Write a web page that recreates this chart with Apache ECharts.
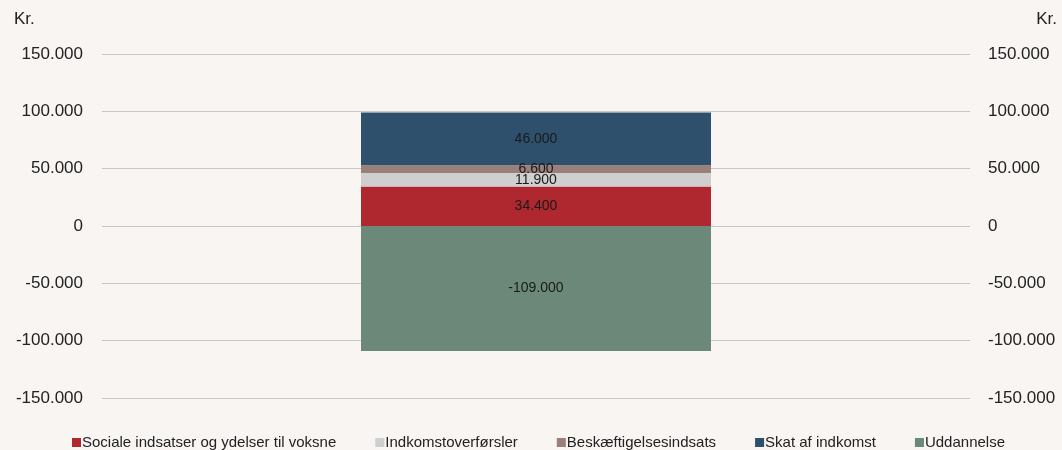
<!DOCTYPE html>
<html>
<head>
<meta charset="utf-8">
<script src="https://cdn.jsdelivr.net/npm/echarts@6/dist/echarts.min.js"></script>
<style>
  html, body { margin: 0; padding: 0; background: #f8f5f3; }
  #chart { width: 1062px; height: 450px; }
</style>
</head>
<body>
<div id="chart"></div>
<script>
var categories = ['']
var seriesNames = ['Sociale indsatser og ydelser til voksne', 'Indkomstoverførsler', 'Beskæftigelsesindsats', 'Skat af indkomst', 'Uddannelse']
var seriesColors = ['#b0282f', '#cfcfd0', '#9b7f7b', '#2f506d', '#6b8878']
var seriesValues = [[34400], [11900], [6600], [46000], [-109000]]
var axisMin = -150000
var axisMax = 150000
var axisStep = 50000

function fmt(v) {
  var neg = v < 0
  var s = String(Math.abs(Math.round(v)))
  s = s.replace(/\B(?=(\d{3})+(?!\d))/g, '.')
  return (neg ? '-' : '') + s
}

var chart = echarts.init(document.getElementById('chart'))

var series = seriesNames.map(function(name, i) {
  return {
    name: name,
    type: 'bar',
    stack: 'total',
    barWidth: 350,
    itemStyle: { color: seriesColors[i] },
    label: {
      show: true,
      position: 'inside',
      color: '#1a1a1a',
      fontSize: 14,
      fontFamily: 'Liberation Sans, Arial, sans-serif',
      formatter: function(p) { return fmt(p.value) }
    },
    emphasis: { disabled: true },
    data: seriesValues[i]
  }
})

var yAxisBase = {
  type: 'value',
  min: axisMin,
  max: axisMax,
  interval: axisStep,
  axisLine: { show: false },
  axisTick: { show: false },
  axisLabel: {
    fontSize: 17,
    color: '#222',
    fontFamily: 'Liberation Sans, Arial, sans-serif',
    formatter: fmt
  }
}

chart.setOption({
  backgroundColor: '#f8f5f3',
  animation: false,
  textStyle: { fontFamily: 'Liberation Sans, Arial, sans-serif' },
  graphic: [
    { type: 'text', left: 14, top: 11, style: { text: 'Kr.', fontSize: 17, fill: '#222', fontFamily: 'Liberation Sans, Arial, sans-serif' } },
    { type: 'text', right: 5, top: 11, style: { text: 'Kr.', fontSize: 17, fill: '#222', fontFamily: 'Liberation Sans, Arial, sans-serif' } }
  ],
  legend: {
    top: 435,
    left: 72,
    padding: 0,
    itemWidth: 9,
    itemHeight: 9,
    itemGap: 39,
    icon: 'rect',
    textStyle: { fontSize: 15, color: '#222', padding: [0, 0, 0, -4] },
    data: seriesNames
  },
  grid: { left: 102, right: 92, top: 54, bottom: 52 },
  xAxis: {
    type: 'category',
    data: categories,
    axisLine: { show: false },
    axisTick: { show: false },
    axisLabel: { show: false }
  },
  yAxis: [
    Object.assign({}, yAxisBase, {
      position: 'left',
      axisLabel: Object.assign({}, yAxisBase.axisLabel, { margin: 19 }),
      splitLine: { show: true, lineStyle: { color: '#c9c5c2', width: 1 } }
    }),
    Object.assign({}, yAxisBase, {
      position: 'right',
      axisLabel: Object.assign({}, yAxisBase.axisLabel, { margin: 18 }),
      splitLine: { show: false }
    })
  ],
  series: series
})
</script>
</body>
</html>
